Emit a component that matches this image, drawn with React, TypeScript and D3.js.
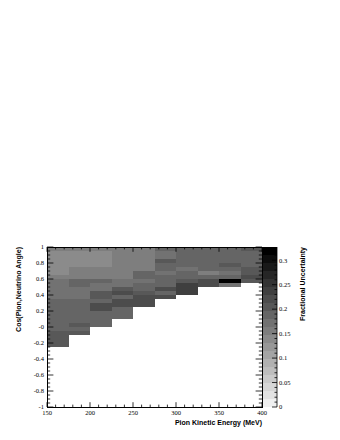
import React from 'react'
import * as d3 from 'd3'

// energy bin edges (MeV)
const energyEdges = [150, 175, 200, 225, 250, 275, 300, 325, 350, 375, 400]
const cosBinWidth = 0.05

// fractional uncertainty per energy bin, rows from cos = 1 downward (0.05 steps)
const u150 = [0.16, 0.139, 0.139, 0.139, 0.139, 0.139, 0.139, 0.155, 0.172, 0.172, 0.172, 0.172, 0.172, 0.18, 0.188, 0.19, 0.19, 0.18, 0.18, 0.18, 0.188, 0.2, 0.2, 0.2, 0.2]
const u175 = [0.155, 0.139, 0.139, 0.139, 0.139, 0.15, 0.15, 0.15, 0.18, 0.18, 0.172, 0.172, 0.172, 0.18, 0.18, 0.188, 0.188, 0.188, 0.188, 0.2, 0.188, 0.2]
const u200 = [0.155, 0.145, 0.145, 0.145, 0.145, 0.15, 0.15, 0.15, 0.188, 0.172, 0.172, 0.2, 0.2, 0.188, 0.215, 0.215, 0.18, 0.185, 0.18, 0.188]
const u225 = [0.155, 0.15, 0.15, 0.15, 0.15, 0.155, 0.155, 0.155, 0.172, 0.172, 0.21, 0.22, 0.188, 0.215, 0.215, 0.19, 0.19, 0.19]
const u250 = [0.16, 0.155, 0.155, 0.16, 0.16, 0.16, 0.188, 0.188, 0.172, 0.188, 0.188, 0.2, 0.22, 0.22, 0.215]
const u275 = [0.18, 0.172, 0.172, 0.2, 0.188, 0.188, 0.172, 0.18, 0.188, 0.188, 0.22, 0.188, 0.225]
const u300 = [0.188, 0.18, 0.188, 0.188, 0.195, 0.172, 0.188, 0.188, 0.205, 0.235, 0.235, 0.235]
const u325 = [0.195, 0.188, 0.18, 0.18, 0.18, 0.195, 0.16, 0.195, 0.215, 0.215]
const u350 = [0.195, 0.188, 0.188, 0.188, 0.2, 0.18, 0.172, 0.188, 0.325, 0.172]
const u375 = [0.2, 0.195, 0.195, 0.188, 0.195, 0.2, 0.205, 0.215, 0.205]
const columns = [u150, u175, u200, u225, u250, u275, u300, u325, u350, u375]

const xTicks = [150, 200, 250, 300, 350, 400]
const yTicks = [-1, -0.8, -0.6, -0.4, -0.2, 0, 0.2, 0.4, 0.6, 0.8, 1]
const yTickLabels = ['-1', '-0.8', '-0.6', '-0.4', '-0.2', '-0', '0.2', '0.4', '0.6', '0.8', '1']
const zTicks = [0, 0.05, 0.1, 0.15, 0.2, 0.25, 0.3]
const zTickLabels = ['0', '0.05', '0.1', '0.15', '0.2', '0.25', '0.3']
const zMax = 0.327
const nContours = 20

const xTitle = 'Pion Kinetic Energy (MeV)'
const yTitle = 'Cos(Pion,Neutrino Angle)'
const zTitle = 'Fractional Uncertainty'

const serif = "'Liberation Serif', 'DejaVu Serif', serif"
const sans = "'Liberation Sans', Arial, sans-serif"

const left = 47
const right = 262
const top = 247
const bottom = 407
const barX0 = 263
const barX1 = 277

const bandColor = (band: number) => {
  const g = Math.round(240 * (1 - band / (nContours - 1)))
  return d3.rgb(g, g, g).toString()
}
const valueColor = (v: number) =>
  bandColor(Math.min(nContours - 1, Math.floor((v / zMax) * nContours)))

export default function App() {
  const x = d3.scaleLinear().domain([150, 400]).range([left, right])
  const y = d3.scaleLinear().domain([-1, 1]).range([bottom, top])
  const z = d3.scaleLinear().domain([0, zMax]).range([bottom, top])

  const xMinor = d3.range(150, 401, 10)
  const yMinor = d3.range(-1, 1.0001, 0.05)
  const zMinor = d3.range(0, zMax, 0.01)
  const xMajorLen = 4.8
  const yMajorLen = 6.4

  return (
    <svg
      width={340}
      height={440}
      style={{ position: 'absolute', left: 0, top: 0, background: '#fff' }}
    >
      {/* cells */}
      <g shapeRendering="crispEdges">
        {columns.map((col, i) =>
          col.map((v, j) => {
            const c1 = 1 - j * cosBinWidth
            const c0 = 1 - (j + 1) * cosBinWidth
            return (
              <rect
                key={`${i}-${j}`}
                x={x(energyEdges[i])}
                y={y(c1)}
                width={x(energyEdges[i + 1]) - x(energyEdges[i])}
                height={y(c0) - y(c1)}
                fill={valueColor(v)}
              />
            )
          }),
        )}
      </g>

      {/* frame */}
      <rect x={left} y={top} width={right - left} height={bottom - top} fill="none" stroke="#000" strokeWidth={1} shapeRendering="crispEdges" />

      {/* ticks on all four sides */}
      <g stroke="#000" strokeWidth={0.8}>
        {xMinor.map((t) => {
          const major = xTicks.includes(t)
          const len = major ? xMajorLen : xMajorLen / 2
          return (
            <g key={`xt${t}`}>
              <line x1={x(t)} x2={x(t)} y1={bottom} y2={bottom - len} />
              <line x1={x(t)} x2={x(t)} y1={top} y2={top + len} />
            </g>
          )
        })}
        {yMinor.map((t, k) => {
          const major = k % 4 === 0
          const len = major ? yMajorLen : yMajorLen / 2
          return (
            <g key={`yt${k}`}>
              <line x1={left} x2={left + len} y1={y(t)} y2={y(t)} />
              <line x1={right} x2={right - len} y1={y(t)} y2={y(t)} />
            </g>
          )
        })}
      </g>

      {/* tick labels */}
      <g fontFamily={serif} fontSize={6.5} fill="#000">
        {xTicks.map((t) => (
          <text key={`xl${t}`} x={x(t)} y={415} textAnchor="middle">
            {t}
          </text>
        ))}
        {yTicks.map((t, k) => (
          <text key={`yl${k}`} x={44} y={y(t) + 2.3} textAnchor="end">
            {yTickLabels[k]}
          </text>
        ))}
      </g>

      {/* colour bar */}
      <g shapeRendering="crispEdges">
        {d3.range(nContours).map((b) => {
          const v0 = (b * zMax) / nContours
          const v1 = ((b + 1) * zMax) / nContours
          return (
            <rect key={`cb${b}`} x={barX0} y={z(v1)} width={barX1 - barX0} height={z(v0) - z(v1)} fill={bandColor(b)} />
          )
        })}
      </g>
      <line x1={barX1} x2={barX1} y1={top} y2={bottom} stroke="#000" strokeWidth={0.8} />
      <g stroke="#000" strokeWidth={0.8}>
        {zMinor.map((t, k) => (
          <line key={`zm${k}`} x1={barX1} x2={barX1 - (k % 5 === 0 ? 5 : 2.5)} y1={z(t)} y2={z(t)} />
        ))}
      </g>
      <g fontFamily={serif} fontSize={6.5} fill="#000">
        {zTicks.map((t, k) => (
          <text key={`zl${k}`} x={279} y={z(t) + 2.3}>
            {zTickLabels[k]}
          </text>
        ))}
      </g>

      {/* titles */}
      <g fontFamily={sans} fontWeight="bold" fontSize={7} fill="#000">
        <text x={right} y={425} textAnchor="end">
          {xTitle}
        </text>
        <text transform={`translate(21,${top}) rotate(-90)`} textAnchor="end">
          {yTitle}
        </text>
        <text transform={`translate(305,${top}) rotate(-90)`} textAnchor="end">
          {zTitle}
        </text>
      </g>
    </svg>
  )
}
